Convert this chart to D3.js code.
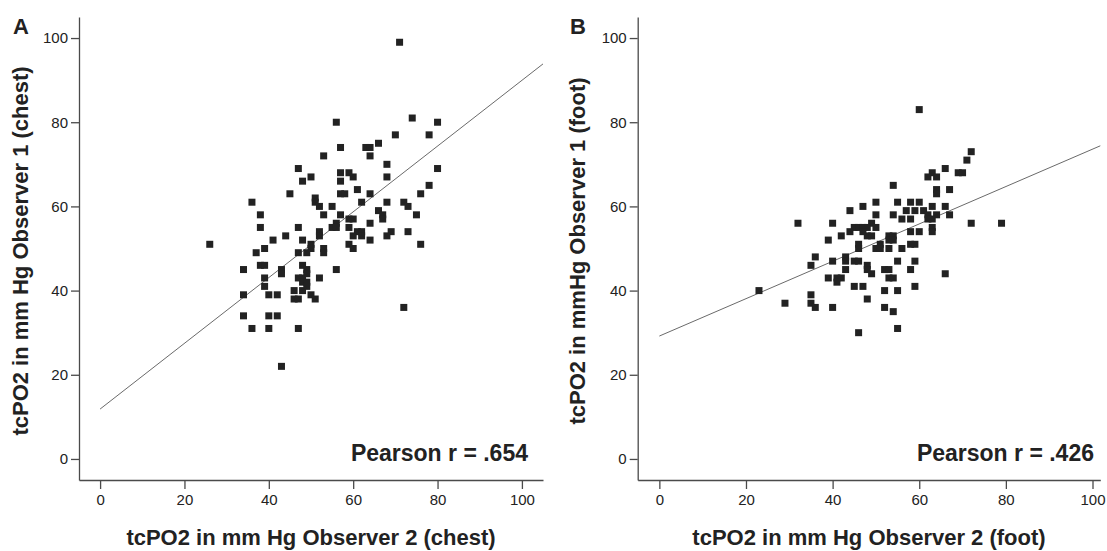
<!DOCTYPE html>
<html>
<head>
<meta charset="utf-8">
<script src="https://cdn.jsdelivr.net/npm/d3@7"></script>
<style>
  html, body { margin: 0; padding: 0; background: #fff; }
  svg { display: block; }
</style>
</head>
<body>
<svg id="chart" width="1107" height="551"></svg>
<script>
// ---- Data -------------------------------------------------------------
// Panel A: chest tcPO2 (mm Hg), observer 2 on x, observer 1 on y
const chestObs2 = [
  71,56,74,80,70,78,57,63,64,66,
  53,64,68,80,47,57,59,50,60,68,
  48,57,78,61,45,57,58,64,76,51,
  36,51,62,68,72,52,55,73,66,38,
  53,57,75,67,67,59,60,56,64,55,
  56,38,47,59,61,62,73,69,52,52,
  60,62,68,44,41,48,64,26,59,50,
  76,39,60,50,53,49,47,37,53,38,
  39,48,34,43,49,56,43,49,39,47,
  48,52,48,49,39,49,46,48,34,40,
  42,50,46,47,51,72,34,40,42,36,
  40,47,43
];
const chestObs1 = [
  99,80,81,80,77,77,74,74,74,75,
  72,72,70,69,69,68,68,67,67,67,
  66,66,65,64,63,63,63,63,63,62,
  61,61,61,61,61,60,60,60,59,58,
  58,58,58,58,57,57,57,56,56,55,
  55,55,55,55,54,54,54,54,54,53,
  53,53,53,53,52,52,52,51,51,51,
  51,50,50,50,50,49,49,49,49,46,
  46,46,45,45,45,45,44,44,43,43,
  43,43,42,42,41,41,40,40,39,39,
  39,39,38,38,38,36,34,34,34,31,
  31,31,22
];

// Panel B: foot tcPO2 (mm Hg), observer 2 on x, observer 1 on y
const footObs2 = [
  60,72,71,66,69,70,63,62,64,54,
  64,67,64,50,55,58,60,47,63,66,
  44,57,59,61,50,54,62,64,67,56,
  58,62,63,32,40,49,72,79,45,46,
  47,48,50,63,44,47,58,60,63,42,
  48,49,53,54,39,53,54,46,51,58,
  59,46,50,51,53,56,36,43,40,43,
  45,46,55,59,35,48,43,48,52,53,
  58,49,66,39,41,42,53,54,41,45,
  47,59,23,52,55,35,48,29,35,36,
  40,52,54,55,46
];
const footObs1 = [
  83,73,71,69,68,68,68,67,67,65,
  64,64,63,61,61,61,61,60,60,60,
  59,59,59,59,58,58,58,58,58,57,
  57,57,57,56,56,56,56,56,55,55,
  55,55,55,55,54,54,54,54,54,53,
  53,53,53,53,52,52,52,51,51,51,
  51,50,50,50,50,50,48,48,47,47,
  47,47,47,47,46,46,45,45,45,45,
  45,44,44,43,43,43,43,43,42,41,
  41,41,40,40,40,39,38,37,37,36,
  36,36,35,31,30
];

// Fitted regression lines: [intercept, slope]
const chestFit = [11.85, 0.781];
const footFit = [29.2, 0.444];

const axisTicks = [0, 20, 40, 60, 80, 100];
const panelLetters = ["A", "B"];
const pearsonLabels = ["Pearson r = .654", "Pearson r = .426"];
const xTitles = ["tcPO2 in mm Hg Observer 2 (chest)", "tcPO2 in mm Hg Observer 2 (foot)"];
const yTitles = ["tcPO2 in mm Hg Observer 1 (chest)", "tcPO2 in mmHg Observer 1 (foot)"];

// ---- Layout -----------------------------------------------------------
const FONT = "'Liberation Sans', Arial, Helvetica, sans-serif";
const INK = "#222";
const AXIS = "#4a4a4a";

const panels = [
  { left: 79,    right: 543,    xDomain: [-5, 105],   xs: chestObs2, ys: chestObs1, fit: chestFit,
    letterX: 13,  yTitleX: 28,  labelEnd: 528 },
  { left: 637.7, right: 1100.3, xDomain: [-5, 101.8], xs: footObs2,  ys: footObs1,  fit: footFit,
    letterX: 570, yTitleX: 585, labelEnd: 1094 }
];
const plotTop = 17, plotBottom = 480;

const svg = d3.select("#chart");

panels.forEach((p, i) => {
  const x = d3.scaleLinear().domain(p.xDomain).range([p.left, p.right]);
  const y = d3.scaleLinear().domain([-5, 105]).range([plotBottom, plotTop]);
  const g = svg.append("g");

  // regression line across the x range
  const x0 = 0, x1 = p.xDomain[1];
  g.append("line")
    .attr("x1", x(x0)).attr("y1", y(p.fit[0] + p.fit[1] * x0))
    .attr("x2", x(x1)).attr("y2", y(p.fit[0] + p.fit[1] * x1))
    .attr("stroke", "#6a6a6a").attr("stroke-width", 1);

  // observations as filled squares
  const s = 7;
  g.append("g").selectAll("rect")
    .data(p.xs.map((v, k) => [v, p.ys[k]]))
    .join("rect")
    .attr("x", d => x(d[0]) - s / 2)
    .attr("y", d => y(d[1]) - s / 2)
    .attr("width", s).attr("height", s)
    .attr("fill", INK);

  // axes
  const yAxis = g.append("g")
    .attr("transform", `translate(${p.left},0)`)
    .call(d3.axisLeft(y).tickValues(axisTicks).tickSize(8).tickSizeOuter(0).tickPadding(3));
  const xAxis = g.append("g")
    .attr("transform", `translate(0,${plotBottom})`)
    .call(d3.axisBottom(x).tickValues(axisTicks).tickSize(9).tickSizeOuter(0).tickPadding(5));
  [yAxis, xAxis].forEach(a => {
    a.select(".domain").attr("stroke", AXIS).attr("stroke-width", 1.3);
    a.selectAll(".tick line").attr("stroke", AXIS).attr("stroke-width", 1.3);
    a.selectAll(".tick text")
      .attr("fill", INK).style("font-family", FONT).style("font-size", "15px");
  });

  // panel letter
  g.append("text")
    .attr("x", p.letterX).attr("y", 34)
    .attr("fill", INK).style("font-family", FONT)
    .style("font-size", "22px").style("font-weight", "bold")
    .text(panelLetters[i]);

  // correlation label
  g.append("text")
    .attr("x", p.labelEnd).attr("y", 461)
    .attr("text-anchor", "end")
    .attr("fill", INK).style("font-family", FONT)
    .style("font-size", "23px").style("font-weight", "bold")
    .text(pearsonLabels[i]);

  // axis titles
  g.append("text")
    .attr("x", (p.left + p.right) / 2).attr("y", 545)
    .attr("text-anchor", "middle")
    .attr("fill", INK).style("font-family", FONT)
    .style("font-size", "22px").style("font-weight", "bold")
    .text(xTitles[i]);

  g.append("text")
    .attr("transform", `translate(${p.yTitleX},251) rotate(-90)`)
    .attr("text-anchor", "middle")
    .attr("fill", INK).style("font-family", FONT)
    .style("font-size", "22px").style("font-weight", "bold")
    .text(yTitles[i]);
});
</script>
</body>
</html>
